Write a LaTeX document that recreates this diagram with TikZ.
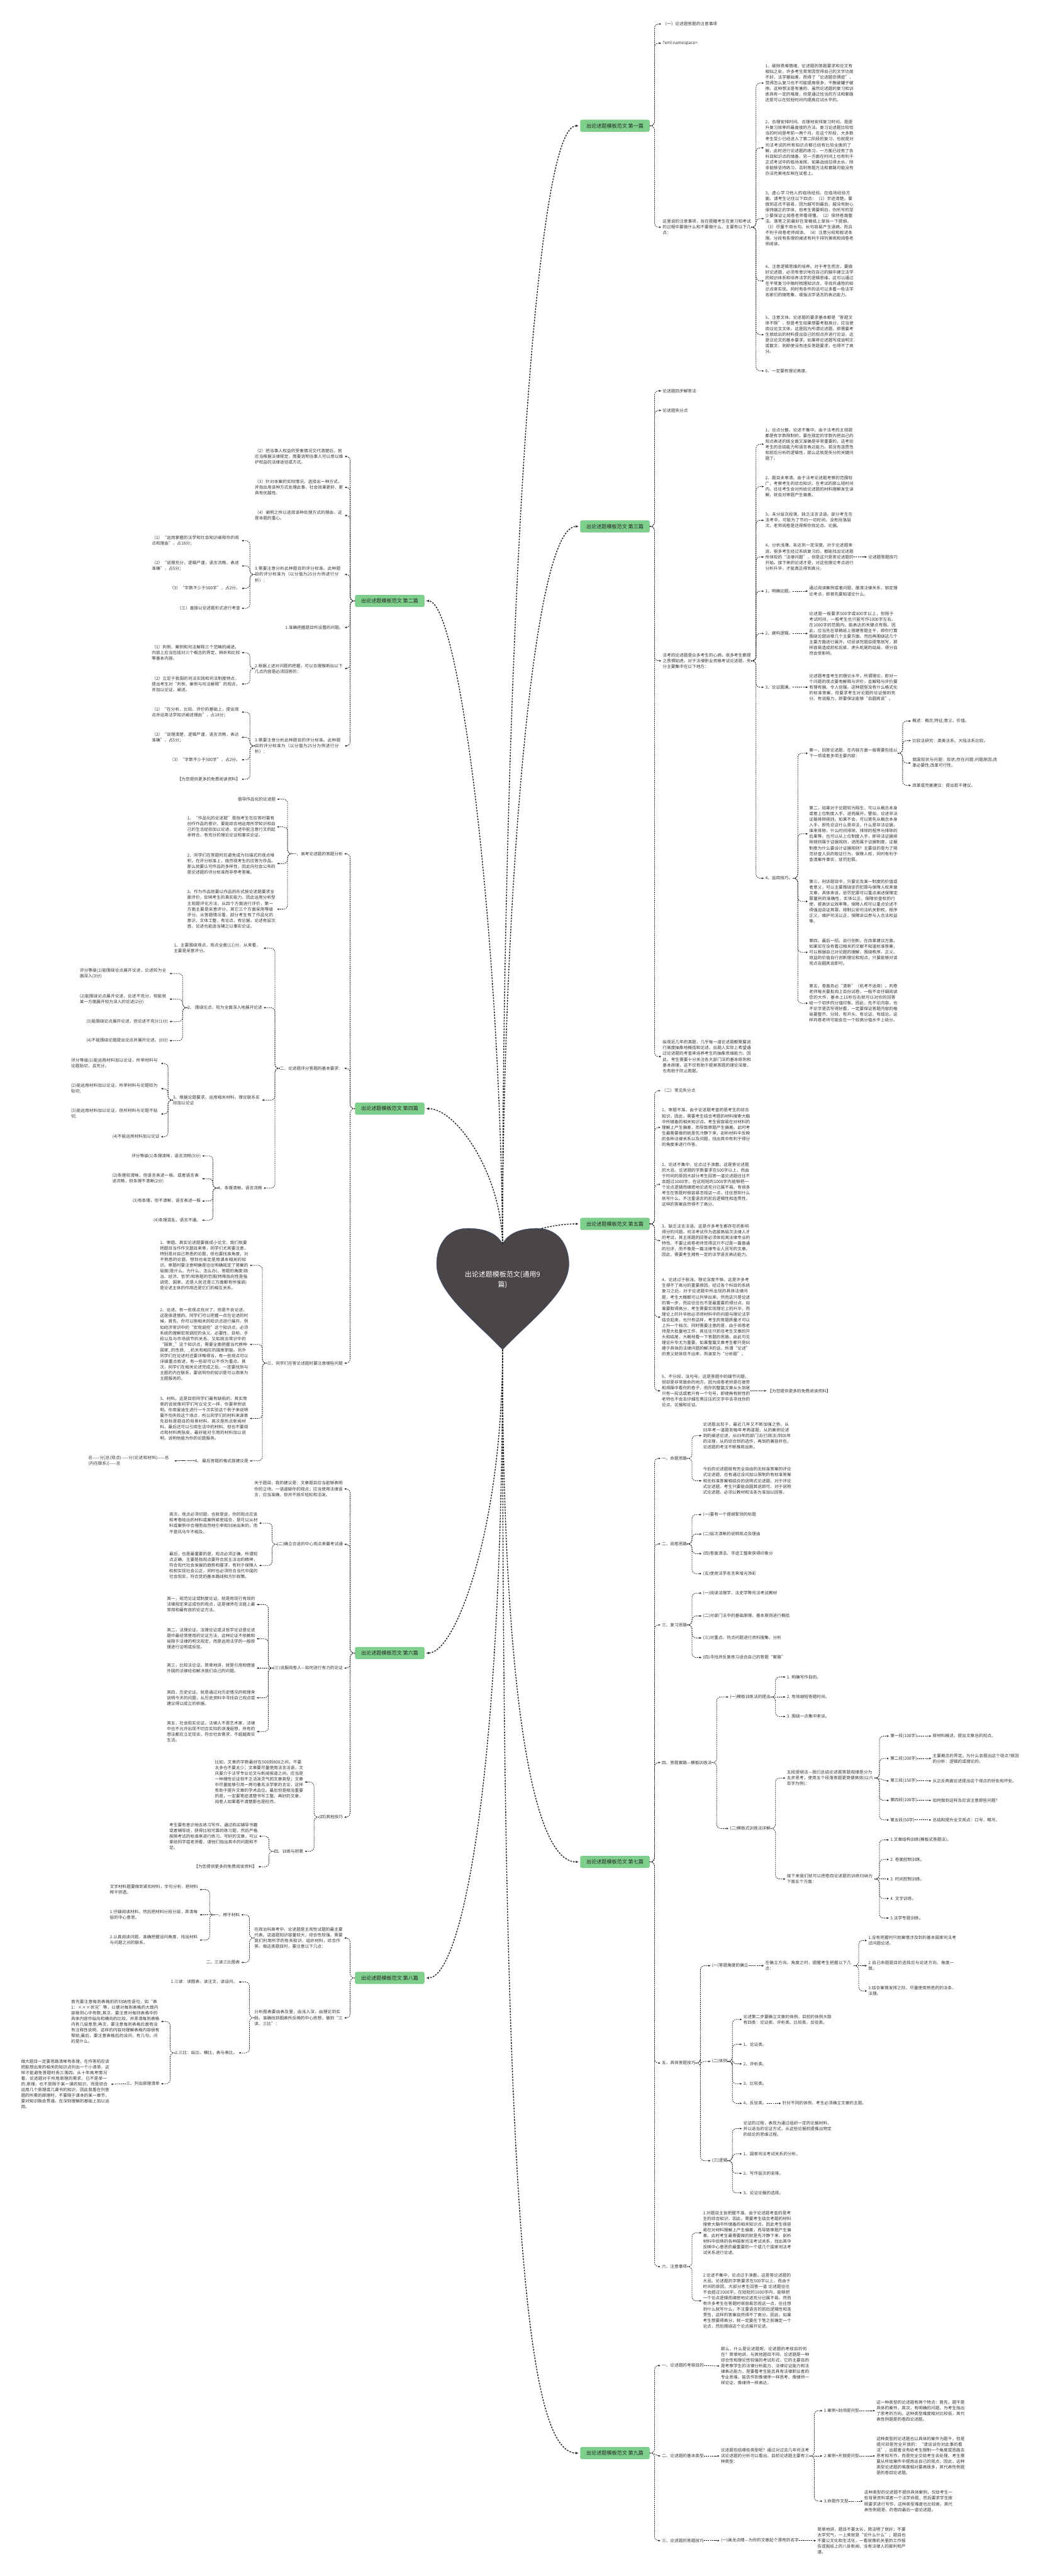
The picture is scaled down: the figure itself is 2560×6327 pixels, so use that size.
\documentclass[tikz,border=0pt]{standalone}
\usepackage{fontspec}
\setmainfont{Noto Sans CJK SC}
\usetikzlibrary{arrows.meta}
\XeTeXlinebreaklocale "zh"
\XeTeXlinebreakskip=0pt plus 1pt
\setlength{\parindent}{0pt}
\definecolor{inktext}{HTML}{333333}
\definecolor{inkline}{HTML}{222222}
\definecolor{leafgreen}{HTML}{7DCF8B}
\definecolor{leafedge}{HTML}{62B873}
\definecolor{heartfill}{HTML}{4A4546}
\definecolor{heartedge}{HTML}{3A5580}
\newcommand{\rlink}[2]{\draw[link] (#1.east) -- ++(12,0) |- (#2.west);}
\newcommand{\llink}[2]{\draw[link] (#1.west) -- ++(-12,0) |- (#2.east);}
\newcommand{\rhlink}[2]{\draw[link] (#1.east) to[out=0,in=180] (#2.west);}
\newcommand{\lhlink}[2]{\draw[link] (#1.west) to[out=180,in=0] (#2.east);}

\begin{document}
\begin{tikzpicture}[x=1pt, y=-1pt,
  every node/.style={inner sep=0pt, text=inktext, font=\fontsize{10.3}{14}\selectfont},
  rt/.style={anchor=west},
  lt/.style={anchor=east},
  para/.style={text width=217pt, align=left},
  branch/.style={draw=leafedge, fill=leafgreen, rounded corners=4pt, minimum width=170pt,
                 minimum height=29pt, inner xsep=6pt, font=\fontsize{12.5}{15}\selectfont, text=black!85},
  link/.style={draw=inkline, line width=1.2pt, dash pattern=on 3pt off 2pt, rounded corners=10pt,
               shorten >=3pt, -{Latex[length=5pt,width=4.5pt]}},
  trunk/.style={draw=inkline, line width=2.2pt, dash pattern=on 4pt off 3pt, shorten >=4pt,
                -{Latex[length=7pt,width=6pt]}}
]
  \fill[white] (0,0) rectangle (2560,6327);
  \useasboundingbox (0,0) rectangle (2560,6327);

  \filldraw[fill=heartfill, draw=heartedge, line width=0.8pt]
    (1234,3055) .. controls (1250,3025) and (1285,3017) .. (1320,3017)
    .. controls (1368,3017) and (1397,3055) .. (1397,3105)
    .. controls (1397,3175) and (1300,3245) .. (1234,3315)
    .. controls (1168,3245) and (1072,3175) .. (1072,3105)
    .. controls (1072,3055) and (1100,3017) .. (1148,3017)
    .. controls (1183,3017) and (1218,3025) .. (1234,3055) -- cycle;
  \node[text=white, align=center, font=\fontsize{17}{24}\selectfont] (root) at (1234,3143) {出论述题模板范文(通用9\\篇)};
  \coordinate (htop) at (1234,3055);
  \coordinate (hbot) at (1234,3315);
  \coordinate (hright) at (1330,3017);

  \node[branch] (b1) at (1510,309) {出论述题模板范文 第一篇};
  \node[branch] (b3) at (1510,1293) {出论述题模板范文 第三篇};
  \node[branch] (b5) at (1510,3006) {出论述题模板范文 第五篇};
  \node[branch] (b7) at (1510,4573) {出论述题模板范文 第七篇};
  \node[branch] (b9) at (1510,6025) {出论述题模板范文 第九篇};
  \node[branch] (b2) at (957,1476) {出论述题模板范文 第二篇};
  \node[branch] (b4) at (957,2723) {出论述题模板范文 第四篇};
  \node[branch] (b6) at (957,4060) {出论述题模板范文 第六篇};
  \node[branch] (b8) at (957,4858) {出论述题模板范文 第八篇};

  \draw[trunk] (htop) .. controls (1234,1800) and (1300,309) .. (b1.west);
  \draw[trunk] (htop) .. controls (1234,2300) and (1300,1293) .. (b3.west);
  \draw[trunk] (htop) .. controls (1228,2300) and (1130,1476) .. (b2.east);
  \draw[trunk] (htop) .. controls (1230,2880) and (1120,2723) .. (b4.east);
  \draw[trunk] (hright) .. controls (1370,3008) and (1395,3006) .. (b5.west);
  \draw[trunk] (hbot) .. controls (1234,3750) and (1120,4060) .. (b6.east);
  \draw[trunk] (hbot) .. controls (1234,4400) and (1130,4858) .. (b8.east);
  \draw[trunk] (hbot) .. controls (1234,4100) and (1300,4573) .. (b7.west);
  \draw[trunk] (hbot) .. controls (1234,5400) and (1290,6025) .. (b9.west);

  \node[rt] (a1) at (1627,59) {（一）论述题答题的注意事项};
  \node[rt] (a2) at (1627,106) {?xml:namespace>};
  \node[rt,para] (a3) at (1627,558) {这里说的注意事项，旨在提醒考生在复习和考试的过程中要做什么和不要做什么，主要有以下几点：};
  \node[rt,para] (a31) at (1879,204) {1、破除畏难情绪，论述题的答题要求和论文有相似之处，许多考生常常因觉得自己的文字功底不好，法学基础差，而得了“论述题恐惧症”，觉得怎么复习也不可能提高很多，干脆破罐子破摔。这种想法是有害的，虽然论述题的复习和训练具有一定的难度，但是通过恰当的方法和套路还是可以在较短时间内提高应试水平的。};
  \node[rt,para] (a32) at (1879,363) {2、合理安排时间。合理地安排复习时间，是提升复习效率的最直接的方法。复习论述题比较恰当的时间是考前一两个月。在这个阶段，大多数考生至少已经进入了第二阶段的复习，也就是对司法考试的所有知识点都已经有比较全面的了解，此时进行论述题的练习，一方面已经有了各科目知识点的储备，另一方面在时间上也有利于正式考试中的临场发挥。如果战线拉得太长，除非能够坚持练习，否则答题方法和套路可能没有办法完美地反映在试卷上。};
  \node[rt,para] (a33) at (1879,537) {3、虚心学习他人的临场经验。在临场经验方面，请考生记住以下四点：（1）字迹清楚。要做到这点不容易，因为越写到最后，越没有耐心保持端正的字体，但考生需要明白，你所写的至少要保证让阅卷老师看得懂。（2）保持卷面整洁。落笔之前最好在草稿纸上草拟一下提纲。（3）尽量不用长句。长句容易产生语病，而且不利于阅卷老师阅读。（4）注意分段和叙述条理。分段有条理的阐述有利于排列美观和阅卷老师阅读。};
  \node[rt,para] (a34) at (1879,690) {4、注意逻辑思维的培养。对于考生而言，要做好论述题，必须有意识地在自己的脑中建立法学的知识体系和培养法学的逻辑思维。这可以通过在平常复习中随时梳理知识点，寻找共通性的知识点来实现。同时有条件的话可以多看一些法学名家们的随笔集，增强法学语言的表达能力。};
  \node[rt,para] (a35) at (1879,822) {5、注意文体。论述题的要求基本都是“答题文体不限”，但是考生如果想要考取高分，应当使用议论文文体。这是因为所谓论述题，即需要考生就给出的材料提出自己的观点并进行论证，这是议论文的基本要求。如果将论述题写成说明文或散文，则即使没有违反答题要求，也得不了高分。};
  \node[rt] (a36) at (1879,911) {6、一定要有理论高度。};
  \foreach \c in {a1,a2,a3} {\rlink{b1}{\c}}
  \foreach \c in {a31,a32,a33,a34,a35,a36} {\rlink{a3}{\c}}

  \node[rt] (c1) at (1627,960) {论述题四步解答法};
  \node[rt] (c2) at (1627,1008) {论述题失分点};
  \node[rt,para] (c3) at (1627,1623) {法考的论述题是众多考生的心病，很多考生都提之畏惧如虎。对于法律职业资格考试论述题，失分主要集中在以下地方：};
  \node[rt,para] (c4) at (1627,2595) {纵观近几年的真题，几乎每一道论述题都需要进行高度抽象地概括和论述。出题人实际上希望通过论述题的考查来培养考生的抽象思维能力。因此，考生需要十分关注各大部门法的基本原则和基本原理，这不仅有助于提高答题的理论深度，也有助于防止跑题。};
  \node[rt,para] (c31) at (1879,1091) {1、论点分散，论述不集中。由于法考的主观题都是有字数限制的，要在规定的字数内把自己的观点表述的既全面又准确是非常重要的，这考验考生的总结能力和语言表达能力。若没有连贯性和前后分析的逻辑性，那么这就是失分的关键问题了。};
  \node[rt,para] (c32) at (1879,1195) {2、题目未审清。由于法考论述题考察的范围较广，考察考生的综合知识。在考试的那么短时间内，往往考生会对所给论述题的材料理解发生误解，就会对审题产生偏差。};
  \node[rt,para] (c33) at (1879,1278) {3、未分层次段落，缺乏法言法语。部分考生在法考中，可能为了节约一切时间，没有段落层次，老师阅卷是还得帮你找论点、论据。};
  \node[rt,para] (c34) at (1879,1368) {4、分析浅薄，未达到一定深度。对于论述题来说，很多考生经过系统复习后，都能找出论述题所体现的“法律问题”，但是这只是答论述题的开始。接下来的论述才是，对这些理论考点进行分析升华，才能真正得到高分。};
  \node[rt] (c341) at (2132,1368) {论述题答题技巧};
  \node[rt] (c35) at (1879,1452) {1、明确论题。};
  \node[rt,para] (c351) at (1987,1452) {通过阅读案例或者问题，厘清法律关系，锁定理论考点，即首先要知道论什么。};
  \node[rt] (c36) at (1879,1556) {2、建构逻辑。};
  \node[rt,para] (c361) at (1987,1556) {论述题一般要求500字或800字以上，但限于考试时间，一般考生也只能写作1000字左右。在1000字的范围内，能表达的关键点有限。因此，应当先在草稿纸上搭建答题主干，即你打算围绕论题谈哪几个主要方面。然后再围绕这几个主要方面进行展开。切忌读完题目提笔就写，那样容易造成前松后紧、虎头蛇尾的结局，得分自然会受影响。};
  \node[rt] (c37) at (1879,1688) {3、论证圆满。};
  \node[rt,para] (c371) at (1987,1688) {论述题考查考生的理论水平。所谓理论，即对一个问题的观点要有解释与评价，且解释与评价要有理有据、令人信服。这种题型没有什么格式化的标准答案，但要求考生对论题的论证做到充分、有说服力，即要保证能够“自圆其说”。};
  \node[rt] (c38) at (1879,2157) {4、运用技巧。};
  \node[rt,para] (c381) at (1987,1850) {第一，回答论述题，在内容方面一般需要包括以下一项或者多项主要内容：};
  \node[rt] (d1) at (2240,1771) {概述：概念;特征;意义、价值。};
  \node[rt] (d2) at (2240,1819) {比较法研究：英美法系、大陆法系比较。};
  \node[rt,para,text width=214pt] (d3) at (2240,1874) {我国现状与问题：现状;存在问题;问题原因;改革必要性;改革可行性。};
  \node[rt] (d4) at (2240,1929) {改革或完善建议：提出若干建议。};
  \node[rt,para] (c382) at (1987,2048) {第二，如果对于论题较为陌生，可以从概念本身或者上位制度入手，进而展开。譬如，论述非法证据排除规则。如果不会，可以首先从概念本身入手，即先论证什么是非法，什么是非法证据，谁来排除，什么时间排除，排除的程序与排除的后果等。也可以从上位制度入手，即非法证据排除规则属于证据规则，进而属于证据制度，证据制度为什么要设计证据规则？主要目的是为了规范侦查人员的取证行为，保障人权，同时有利于查清案件事实，惩罚犯罪。};
  \node[rt,para] (c383) at (1987,2214) {第三，刑诉题目中，只要论及某一制度的价值或者意义，可以主要围绕惩罚犯罪与保障人权来做文章，具体来说，惩罚犯罪可以重点阐述保障定罪量刑的准确性，实体公正，保障侦查权的行使，提高诉讼效率等。保障人权可以重点论述不得强迫自证其罪，规制公安司法机关职权，程序正义，维护司法公正，保障诉讼参与人合法权益等。};
  \node[rt,para] (c384) at (1987,2339) {第四，最后一招，自行创新。在改革建议方面，如果实在没有看过相关的文献不知道标准答案，可以根据自己对论题的理解，围绕秩序、正义、效益的价值自行创新理论和观点，只要能够对该观点自圆其说即可。};
  \node[rt,para] (c385) at (1987,2464) {第五，卷面务必“清新”（机考不适用）。判卷老师每天要批阅上百份试卷，一般不会仔细阅读您的大作，基本上15秒左右就可以对你的回答给一个初步的分值印象。因此，先不论内容，也不论字是否写得好看，一定要保证答题内容的格局要整齐、分段、有开头、有论证、有结论。这样判卷老师可能会在一个较高分值水平上给分。};
  \foreach \c in {c1,c2,c3,c4} {\rlink{b3}{\c}}
  \foreach \c in {c31,c32,c33,c34,c35,c36,c37,c38} {\rlink{c3}{\c}}
  \rhlink{c34}{c341} \rhlink{c35}{c351} \rhlink{c36}{c361} \rhlink{c37}{c371}
  \foreach \c in {c381,c382,c383,c384,c385} {\rlink{c38}{\c}}
  \foreach \c in {d1,d2,d3,d4} {\rlink{c381}{\c}}

  \node[rt] (e1) at (1625,2679) {（二）常见失分点};
  \node[rt,para] (e2) at (1625,2769) {1、审题不准。由于论述题考查的是考生的综合知识，因此，需要考生结合考题的材料搜索大脑中所储备的相关知识点。考生很容易在对材料的理解上产生偏差，而导致审题产生偏差。此时考生最需要做的就是先冷静下来，剖析材料中反映的各种法律关系以及问题，找出其中有利于得分的角度来进行作答。};
  \node[rt,para] (e3) at (1625,2909) {2、论述不集中，论点过于涣散。这是答论述题的大忌。论述题的字数要求在500字以上，而由于时间的原因大部分考生回答一道论述题往往不会超过1000字。在这短短的1000字内能够把一个论点逻辑而缜密地论述充分已属不易。有很多考生在答题时很容易忽视这一点，往往想到什么就写什么，不注重语言的前后逻辑性和连贯性，这样的答案自然得不了高分。};
  \node[rt,para] (e4) at (1625,3047) {3、缺乏法言法语。这是许多考生都存在的影响得分的问题。司法考试作为选拔高层次法律人才的考试，其主观题的回答必须体现其法律专业的特性。不要让阅卷老师觉得这只不过是一篇普通的社评，而不像是一篇法律专业人员写的文章。因此，需要考生拥有一定的法学语言表达能力。};
  \node[rt,para] (e5) at (1625,3235) {4、论述过于肤浅，理论深度不够。这是许多考生得不了高分的重要原因。经过各个科目的系统复习之后，对于论述题中所出现的具体法律问题，考生大概都可以列举出来。然而这只是论述的第一步，而且往往也不是最重要的得分点。如果要取得高分，考生需要实现理论上的升华，而理论上的升华就必须将材料中的问题与理论法学结合起来，也只有这样，考生的答题质量才可以上升一个档次。同时需要注意的是，由于阅卷老师是大批量地工作，其往往只抓住考生文章的开头和结尾，大概地看一下答题的思路，由此可见理论升华尤为重要。如果整篇文章考生都只是纠缠于具体的法律问题的解决的话，所谓“论述”的意义就体现不出来，而演变为“分析题”。};
  \node[rt,para] (e6) at (1625,3416) {5、不分段，没句号。这是答题中的细节问题，但却是非常致命的地方，因为阅卷老师是在疲劳和烦躁中看你的卷子，而你的整篇文章从头到尾只有一段话或者只有一个句号，即使再有耐性的老师也不会去仔细在黑压压的文字中去寻找你的论点、论据和论证。};
  \node[rt] (e61) at (1885,3416) {【为您提供更多的免费阅读资料】};
  \foreach \c in {e1,e2,e3,e4,e5,e6} {\rlink{b5}{\c}}
  \rhlink{e6}{e61}

  \node[rt] (f1) at (1625,3582) {一、命题思路};
  \node[rt,para] (f11) at (1726,3526) {论述题出现于，最近几年又不断加强之势。从03年考一道题到每年考两道题，从的案例论述到的阐述论述，从03年的部门法(行政法)到05年的法理，从的综合到的选作，再到的兼容并包，论述题的考法不断推陈出新。};
  \node[rt,para] (f12) at (1726,3637) {今后的论述题既有完全自由的无标准答案的评论式论述题，也有通过设问加以限制的有标准答案和无标准答案相结合的说明式论述题。对于评论式论述题，考生只要能自圆其说即可。对于说明式论述题，必须以教材和法条为准加以回答。};
  \node[rt] (f2) at (1625,3792) {二、阅卷思路};
  \node[rt] (f21) at (1726,3720) {(一)要有一个提纲挈领的标题};
  \node[rt] (f22) at (1726,3768) {(二)层次清晰的说明观点及理由};
  \node[rt] (f23) at (1726,3816) {(四)卷面清洁、字迹工整来获得印象分};
  \node[rt] (f24) at (1726,3865) {(五)使用法学名言来增光添彩};
  \node[rt] (f3) at (1625,3991) {三、复习思路};
  \node[rt] (f31) at (1726,3913) {(一)阅读法理学、法史学等司法考试教材};
  \node[rt,para] (f32) at (1726,3969) {(二)对部门法中的基础原理、基本原则进行概括};
  \node[rt] (f33) at (1726,4023) {(三)对重点、热点问题进行资料搜集、分析};
  \node[rt] (f34) at (1726,4071) {(四)寻找并反复练习适合自己的答题“套路”};
  \node[rt] (f4) at (1625,4329) {四、答题套路—模板训练法};
  \node[rt] (f41) at (1792,4168) {(一)模板训练法的提出};
  \node[rt] (g1) at (1932,4119) {1. 明确写作目的。};
  \node[rt] (g2) at (1932,4168) {2. 有效缩短答题时间。};
  \node[rt] (g3) at (1932,4216) {3. 围绕一点集中来谈。};
  \node[rt] (f42) at (1792,4491) {(二)模板式训练法详解};
  \node[rt,para,text width=215pt] (f421) at (1932,4367) {五段提纲法—我们总结论述题答题规律是分为五步思考，使用五个段落答题更简便高效(以六百字为例)：};
  \node[rt] (h1) at (2186,4264) {第一段(100字)};
  \node[rt] (h2) at (2186,4319) {第二段(200字)};
  \node[rt] (h3) at (2186,4374) {第三段(150字)};
  \node[rt] (h4) at (2186,4422) {第四段(100字)};
  \node[rt] (h5) at (2186,4470) {第五段(50字)};
  \node[rt] (h11) at (2290,4264) {原材料概述，提出文章总的观点。};
  \node[rt,para,text width=213pt] (h21) at (2290,4319) {主要概念的界定。为什么会提出这个观点?原因的分析：逻辑的或理论的。};
  \node[rt] (h31) at (2290,4374) {从正反两面论述提出这个观点的好处和坏处。};
  \node[rt] (h41) at (2290,4422) {如何做到这样及应该注意那些问题?};
  \node[rt] (h51) at (2290,4470) {总结和提升全文观点：口号，略写。};
  \node[rt,para,text width=215pt] (f422) at (1932,4615) {接下来我们就可以把卷四论述题的训练归纳为下面五个方面：};
  \node[rt] (k1) at (2186,4519) {1.文章结构训练(模板式答题法)。};
  \node[rt] (k2) at (2186,4567) {2. 卷面控制训练。};
  \node[rt] (k3) at (2186,4615) {3. 时间控制训练。};
  \node[rt] (k4) at (2186,4663) {4. 文字训练。};
  \node[rt] (k5) at (2186,4711) {5.法学专题训练。};
  \node[rt] (f5) at (1625,5067) {五、具体答题技巧};
  \node[rt] (f51) at (1748,4828) {(一)答题角度的确立};
  \node[rt,para] (f511) at (1879,4828) {在确立方向、角度之时，提醒考生把握以下几点：};
  \node[rt,para] (m1) at (2132,4766) {1.没有把握时只就案情涉及到的基本国家司法考试问题论述。};
  \node[rt,para] (m2) at (2132,4828) {2.自己命题题目的选择应与论述方向、角度一致。};
  \node[rt,para] (m3) at (2132,4890) {3.结合案情发挥之际，尽量使用熟悉的的法条、法理。};
  \node[rt] (f52) at (1748,5063) {(二)体例};
  \node[rt,para] (p1) at (1825,4960) {论述第二步要确立文章的体例，目前的体例大致有四类：论证类、评析类、比较类、反驳类。};
  \node[rt] (p2) at (1825,5021) {1、论证类。};
  \node[rt] (p3) at (1825,5069) {2、评析类。};
  \node[rt] (p4) at (1825,5118) {3、比较类。};
  \node[rt] (p5) at (1825,5166) {4、反驳类。};
  \node[rt] (p51) at (1921,5166) {针对不同的体例，考生必须确立文章的主题。};
  \node[rt] (f53) at (1748,5307) {(三)逻辑};
  \node[rt,para] (q1) at (1825,5228) {论证的过程，表现为通过组织一定的论据材料，并以适当的论证方式，从这些论据前提推出特定的结论的思维过程。};
  \node[rt] (q2) at (1825,5290) {1、国家司法考试关系的分析。};
  \node[rt] (q3) at (1825,5338) {2、写作层次的安排。};
  \node[rt] (q4) at (1825,5386) {3、论证论据的选择。};
  \node[rt] (f6) at (1625,5567) {六、注意事项};
  \node[rt,para] (f61) at (1726,5484) {1.对题目主旨把握不准。由于论述题考查的是考生的综合知识，因此，需要考生结合考题的材料搜索大脑中所储备的相关知识点。因此考生很容易在对材料理解上产生偏差，而导致审题产生偏差。此时考生最需要做的就是先冷静下来，剖析材料中反映的各种国家司法考试关系，找出其中反映中心意思的最重要的一个或几个国家司法考试关系进行论述。};
  \node[rt,para] (f62) at (1726,5651) {2.论述不集中，论点过于涣散。这是答论述题的大忌。论述题的字数要求在500字以上，而由于时间的原因，大部分考生回答一道 论述题往往不会超过1000字。在短短的1000字内，能够把一个论点逻辑而缜密地论述充分已属不易。然而有许多考生在答题时很容易忽视这一点，往往想到什么就写什么，不注重语言的前后逻辑性和连贯性，这样的答案自然得不了高分。因此，如果考生想要得高分，就一定要在下笔之前确定一个论点，然后围绕这个论点展开论述。};
  \foreach \c in {f1,f2,f3,f4,f5,f6} {\rlink{b7}{\c}}
  \foreach \c in {f11,f12} {\rlink{f1}{\c}}
  \foreach \c in {f21,f22,f23,f24} {\rlink{f2}{\c}}
  \foreach \c in {f31,f32,f33,f34} {\rlink{f3}{\c}}
  \foreach \c in {f41,f42} {\rlink{f4}{\c}}
  \foreach \c in {g1,g3} {\rlink{f41}{\c}}
  \rhlink{f41}{g2}
  \foreach \c in {f421,f422} {\rlink{f42}{\c}}
  \foreach \c in {h1,h2,h4,h5} {\rlink{f421}{\c}}
  \rhlink{f421}{h3}
  \foreach \c in {1,2,3,4,5} {\rhlink{h\c}{h\c1}}
  \foreach \c in {k1,k2,k4,k5} {\rlink{f422}{\c}}
  \rhlink{f422}{k3}
  \foreach \c in {f51,f52,f53} {\rlink{f5}{\c}}
  \rhlink{f51}{f511}
  \foreach \c in {m1,m3} {\rlink{f511}{\c}}
  \rhlink{f511}{m2}
  \foreach \c in {p1,p2,p3,p4,p5} {\rlink{f52}{\c}}
  \rhlink{p5}{p51}
  \foreach \c in {q1,q2,q3,q4} {\rlink{f53}{\c}}
  \foreach \c in {f61,f62} {\rlink{f6}{\c}}

  \node[rt] (r1) at (1625,5810) {一、论述题的考核目的};
  \node[rt,para] (r11) at (1770,5811) {那么，什么是论述题呢，论述题的考核目的何在？简单地讲，与其他题目不同，论述题是一种综合性和理论性较强的考试形式，它的主要目的是考察学生的法律分析能力、法律论证能力和法律表达能力，是要看考生能否具有法律职业者的专业思维，能否作到像律师一样思考、像律师一样论证、像律师一样表达，};
  \node[rt] (r2) at (1625,6032) {二、论述题的基本类型};
  \node[rt,para] (r21) at (1770,6032) {论述题包括哪些类型呢？通过对过去几年司法考试论述题的分析可以看出，目前论述题主要有三种类型：};
  \node[rt] (s1) at (2023,5921) {1.案例+封闭提问型};
  \node[rt,para] (s11) at (2152,5921) {这一种类型的论述题有两个特点：首先，题干是具体的案件，其次，有明确的问题，为考生指出了思考的方向。这种类型难度相对比较低，其代表性例题是的卷四论述题。};
  \node[rt] (s2) at (2023,6032) {2.案例+开放提问型};
  \node[rt,para] (s21) at (2152,6032) {这种类型的论述题也以具体的案件为题干，但是提问却是完全开放的：“请谈谈你对此事的看法”，出题者没有给考生限制一个角度或思路去思考和写作，而是完全交给考生去处理。考生需要从所给案件中提炼出自己的观点，因此，这种类型论述题的难度相对要高很多，其代表性例题是的卷四论述题。};
  \node[rt] (s3) at (2023,6143) {3.命题作文型};
  \node[rt,para] (s31) at (2122,6143) {这种类型的论述题不提供具体案例，仅给考生一些背景资料或者一个法学命题，然后要求学生按照要求进行写作，这种类型难度也比较高，其代表性例题是、的卷四最后一道论述题。};
  \node[rt] (r3) at (1625,6240) {三、论述题的答题技巧};
  \node[rt] (r31) at (1770,6240) {(一)画龙点睛—为你的文章起个漂亮的名字};
  \node[rt,para] (r311) at (2007,6240) {简单地讲，题目不要太长，简洁明了就好；不要太学究气，一上来就是“论什么什么”；题目也不要公文化和生活化，一看就像机关里的工作报告或报纸上的八卦新闻，没有法律人的犀利和严谨。};
  \foreach \c in {r1,r3} {\rlink{b9}{\c}}
  \rhlink{b9}{r2}
  \rhlink{r1}{r11} \rhlink{r2}{r21} \rhlink{r3}{r31} \rhlink{r31}{r311}
  \foreach \c in {s1,s3} {\rlink{r21}{\c}}
  \rhlink{r21}{s2}
  \foreach \c in {1,2,3} {\rhlink{s\c}{s\c1}}

  \node[lt,para] (t1) at (843,1121) {（2）把当事人权益的受害情况交代清楚后，就应当根据法律规定，简要说明当事人可以用以维护权益的法律途径或方式。};
  \node[lt,para] (t2) at (843,1197) {（3）针对本案的实际情况，选择出一种方式，并指出用该种方式处理此事，社会效果更好、更具有优越性。};
  \node[lt,para] (t3) at (843,1266) {（4）阐明之所以选择该种处理方式的理由，这是本题的重心。};
  \node[lt,para] (t4) at (843,1411) {3.需要注意分析此种题目的评分标准。此种题目的评分标准为（以分值为25分为例进行分析）：};
  \node[lt,para] (t41) at (590,1328) {（1）“运用掌握的法学和社会知识阐释你的观点和理由”，占18分；};
  \node[lt,para] (t42) at (590,1390) {（2）“说理充分，逻辑严谨，语言流畅，表述准确”，占5分；};
  \node[lt] (t43) at (590,1445) {（3）“字数不少于500字”，占2分。};
  \node[lt] (t44) at (590,1494) {（三）直接以论述题形式进行考查};
  \node[lt] (t5) at (843,1541) {1.准确把握题目所设置的问题。};
  \node[lt,para] (t6) at (843,1642) {2.根据上述对问题的把握，可以合理推断出以下几点内容是必须回答的：};
  \node[lt,para] (t61) at (590,1603) {（1）判例、案例和司法解释三个范畴的阐述，内容上应当包括对三个概念的界定、辨析和比较等基本内容。};
  \node[lt,para] (t62) at (590,1680) {（2）立足于我国的司法实践和司法制度特点，提出考生对“判例、案例与司法解释”的观点，并加以论证、阐述。};
  \node[lt,para] (t7) at (843,1832) {3.需要注意分析此种题目的评分标准。此种题目的评分标准为（以分值为25分为例进行分析）：};
  \node[lt,para] (t71) at (590,1749) {（1）“在分析、比较、评价的基础上，提出观点并运用法学知识阐述理由”，占18分；};
  \node[lt,para] (t72) at (590,1811) {（2）“说理清楚，逻辑严谨，语言流畅，表达准确”，占5分；};
  \node[lt] (t73) at (590,1866) {（3）“字数不少于500字”，占2分。};
  \node[lt] (t74) at (590,1914) {【为您提供更多的免费阅读资料】};
  \foreach \c in {t1,t2,t3,t4,t5,t6,t7} {\llink{b2}{\c}}
  \foreach \c in {t41,t42,t43,t44} {\llink{t4}{\c}}
  \foreach \c in {t61,t62} {\llink{t6}{\c}}
  \foreach \c in {t71,t72,t73,t74} {\llink{t7}{\c}}

  \node[lt] (u1) at (842,2097) {一、高考论述题的答题分析};
  \node[lt] (u11) at (677,1963) {倡导作品化的论述题};
  \node[lt,para] (u12) at (677,2031) {1、“作品化的论述题”是指考生在应答时要有创作作品的意识，要能综合地运用所学知识和自己的生活经验加以论述，论述中能注意行文的起承转合，有充分的理论论证和事实论证。};
  \node[lt,para] (u13) at (677,2121) {2、同学们在答题时应避免成为扫描式的观点堆积，在评分标准上，既然视考生的应答为作品，那么就要认可作品的多样性，因此向社会公布的是论述题的评分标准而非参考答案。};
  \node[lt,para] (u14) at (677,2233) {3、作为作品就要以作品的形式按论述题要求全面评价，反映考生的真实能力，因此运用分析型主观题评化方法，从四个方面进行评价，第一方面主要是采意评分，其它三个方面采用等级评分。从答题情况看，部分考生有了作品化的意识、文体工整，有论点，有论据，论述有层次感，论述也能适当辅之以事实论证。};
  \node[lt] (u2) at (842,2624) {二、论述题评分答题的基本要求：};
  \node[lt,para] (u21) at (644,2329) {1、主要围绕观点，观点全面(11)分，从来看，主要是采意评分。};
  \node[lt] (u22) at (644,2475) {2、 围绕论点，较为全面深入地展开论述};
  \node[lt,para] (v1) at (413,2391) {评分等级(1)能围绕论点展开论述，论述较为全面深入(3分)};
  \node[lt,para] (v2) at (413,2454) {(2)能围绕论点展开论述，论述不充分，但能就某一方面展开较为深入的论述(2分)};
  \node[lt] (v3) at (413,2509) {(3)能围绕论点展开论述，但论述不充分(1分)};
  \node[lt] (v4) at (413,2556) {(4)不能围绕论题提出论点并展开论述。(0分)};
  \node[lt,para,text width=215pt] (u23) at (640,2702) {3、根据论题要求，运用相关材料，理论联系实际加以论证};
  \node[lt,para] (w1) at (392,2612) {评分等级(1)能运用材料加以论证，所举材料与论题贴切，且充分。};
  \node[lt,para] (w2) at (392,2674) {(2)能运用材料加以论证，所举材料与论题较为贴切;};
  \node[lt,para] (w3) at (392,2736) {(3)能运用材料加以论证，但所材料与论题不贴切;};
  \node[lt] (w4) at (392,2792) {(4)不能运用材料加以论证};
  \node[lt] (u24) at (644,2918) {4、条理清晰，语言流畅};
  \node[lt] (x1) at (493,2839) {评分等级(1)条理清晰，语言流畅(3分)};
  \node[lt,para] (x2) at (493,2895) {(2)条理较清晰，但语言表述一般，或者语言表述流畅，但条理不清晰(2分)};
  \node[lt] (x3) at (493,2950) {(3)有条理，但不清晰，语言表述一般};
  \node[lt] (x4) at (493,2997) {(4)条理混乱，语言不通。};
  \node[lt] (u3) at (842,3348) {三、同学们在答论述题时要注意哪些问题};
  \node[lt,para] (y1) at (610,3108) {1、审题。其实论述题要做成小论文，我们就要把题目当作作文题目来审，同学们尤其要注意，特别是对自己熟悉的论题，但也要找准角度，对不熟悉的论题，想到也肯定是用课本相关的知识。审题时要注意明确是往往明确规定了答案的层面(是什么、为什么、怎么办)，答题的角度(政治、经济、哲学)和答题的范围(特殊指向性是强调党、国家、还是人民还是三方面都有所强调)是论述主体的作用还是它们的相互关系。};
  \node[lt,para] (y2) at (610,3302) {2、论述。有一些观点找对了，但是不会论述，这是很遗憾的。同学们可以把握一点在论述的时候，首先，你可以用相关的知识点进行展开。例如经济常识中的“宏观调控”这个知识点，必须系统的理解宏观调控的含义、必要性、目标、手段以及与市场调节的关系。又如政治常识中的“国家\_”这个知识点，需要全面把握当代两种国家\_的性质、\_机关和相应的国家职能。另外同学们在论述时还要详略得当，有一些观点可以详细重点叙述，有一些却可以不作为重点。其次，同学们在相关论述完成之后，一定要找到与主题的内在联系，要说明你的知识是可以用来为主题服务的。};
  \node[lt,para] (y3) at (610,3484) {3、材料。这是目前同学们最有缺陷的，其实简单的说就像同学们写议论文一样，你要举例说明。你用爱迪生进行一千次实验这个例子来说明要不怕失败这个观点，所以同学们的材料来源首先目标是题目的背景材料，其次是热点新闻材料，最后还可以引用生活中的材料，但也不要观点和材料两张皮，最好能对引用的材料加以说明，说明他能为你的论题服务。};
  \node[lt] (y4) at (610,3588) {4、 最后答题的格式我建议是};
  \node[lt,para,text width=208pt] (y41) at (425,3588) {总——分[总(观点)——分(论述和材料)——总(内在联系)]——总};
  \foreach \c in {u1,u2,u3} {\llink{b4}{\c}}
  \foreach \c in {u11,u12,u13,u14} {\llink{u1}{\c}}
  \foreach \c in {u21,u22,u23,u24} {\llink{u2}{\c}}
  \foreach \c in {v1,v2,v3,v4} {\llink{u22}{\c}}
  \foreach \c in {w1,w2,w3,w4} {\llink{u23}{\c}}
  \foreach \c in {x1,x2,x3,x4} {\llink{u24}{\c}}
  \foreach \c in {y1,y2,y3,y4} {\llink{u3}{\c}}
  \lhlink{y4}{y41}

  \node[lt,para] (z1) at (842,3657) {关于题目，我的建议是：文章题目应当能够表明你的立场，一语道破你的观点；应当使用法律语言，应当准确，但并不排斥轻松和活泼。};
  \node[lt] (z2) at (842,3793) {(二)确立合适的中心观点来赢考试通};
  \node[lt,para] (z21) at (633,3741) {其次，观点必须切题，也就是说，你的观点应该和考卷给出的材料或案例紧密结合，是可以从材料或案例中合理而自然地引申和归纳出来的，而不是风马牛不相及。};
  \node[lt,para] (z22) at (633,3845) {最后，也是最重要的是，观点必须正确，所谓观点正确，主要是指观点要符合民主法治的精神，符合现代社会发展的趋势和要求，有利于保障人权和实现社会公正，同时也必须符合当代中国的社会现实，符合党的基本路线和方针政策。};
  \node[lt] (z3) at (842,4097) {(三)说服阅卷人—如何进行有力的论证};
  \node[lt,para] (z31) at (627,3941) {其一，规范论证或制度论证。就是用现行有效的法律规定来证成你的观点，这是律师在法庭上最常用和最有效的论证方法。};
  \node[lt,para] (z32) at (627,4025) {其二，法理论证。法理论证或法哲学论证是论述题中最经常使用的论证方法，这种论证不依赖和局限于法律的明文规定，而是运用法学的一般原理进行证明或反驳。};
  \node[lt,para] (z33) at (627,4097) {其三，比较法论证。简单地讲，就是引用和借鉴外国的法律经验解决我们自己的问题。};
  \node[lt,para] (z34) at (627,4170) {其四，历史论证。就是通过对历史情况的梳理来说明今天的问题，从历史资料中寻找自己观点或建议得以成立的依据。};
  \node[lt,para] (z35) at (627,4253) {其五，社会现实论证。法律人不是艺术家，法律中也不允许出现不切合实际的浪漫遐想，所有的想法都应立足现实，符合社会需求，不超越真实生活。};
  \node[lt] (z4) at (842,4463) {(四)其他技巧};
  \node[lt,para] (z41) at (745,4377) {比如，文章的字数最好在500到800之间，不要太多也不要太少；文章要尽量使用法言法语，文风要介于法学专业论文与新闻报道之间，应当是一种理性论证但不乏活泼灵气的文章类型；文章中尽量能够引用一两句著名法学家的言论，这样有助于提升文章的学术品位。最后但是相当重要的是，一定要笔迹清楚书写工整，再好的文章，阅卷人如果看不清楚那也是枉然。};
  \node[lt] (z42) at (745,4547) {四、训练与积累};
  \node[lt,para] (z421) at (633,4510) {考生要有意识地去练习写作，通过购买辅导书籍或者辅导班，获得比较可靠的练习题，然后严格按照考试的标准来进行练习。写好的文章，可以拿给同学或老师看，请他们指出其中的问题和不足。};
  \node[lt] (z422) at (631,4585) {【为您提供更多的免费阅读资料】};
  \foreach \c in {z1,z2,z3,z4} {\llink{b6}{\c}}
  \foreach \c in {z21,z22} {\llink{z2}{\c}}
  \foreach \c in {z31,z32,z34,z35} {\llink{z3}{\c}}
  \lhlink{z3}{z33}
  \foreach \c in {z41,z42} {\llink{z4}{\c}}
  \foreach \c in {z421,z422} {\llink{z42}{\c}}

  \node[lt,para] (o1) at (842,4760) {在政治科高考中，论述题是主观性试题的最主要代表。这道题知识容量较大，综合性较强，需要我们利用所学的有关知识，组织材料，综合作答。做这类题目时，要注意以下几点：};
  \node[lt] (o11) at (589,4703) {一、榨干材料};
  \node[lt,para] (o111) at (487,4641) {文字材料题要做到紧扣材料，字句分析，把材料榨干挤透。};
  \node[lt,para] (o112) at (487,4703) {1.仔细阅读材料，然后把材料分段分层，弄清每层的中心意思。};
  \node[lt,para] (o113) at (487,4765) {2.认真阅读问题，准确把握设问角度，找出材料与问题之间的联系。};
  \node[lt] (o12) at (589,4820) {二、三读三比图表};
  \node[lt,para] (o2) at (842,4956) {分析图表要由表及里，由浅入深，由理论到实践，准确找到图表所反映的中心思想，做到“三读、三比”：};
  \node[lt] (o21) at (583,4868) {1.三读：读图表，读注文，读设问。};
  \node[lt] (o22) at (583,5042) {2.三比：纵比，横比，表与表比。};
  \node[lt,para] (o221) at (392,4965) {首先要注意每则表格前的归纳性语句，如“表1：×××状况”等，以便对每则表格的大致内容做到心中有数;其次，要注意对每则表格中的具体内容作纵向和横向的比较，并弄清每则表格内有几层意思;再次，要注意每则表格后面有没有注释性说明，这样的内容对理解表格内容很有帮助;最后，要注意表格后的设问，有几句，问的是什么。};
  \node[lt] (o222) at (392,5118) {三、列出原理清单};
  \node[lt,para] (o2221) at (269,5119) {做大题目一定要思路清晰有条理，在作答前应该把能想出来的相关的知识点列出一个小清单，这样才能避免答题时丢三落四。从十年高考情况看，论述题对于所用原理的需求，已不是单一的.原理，也不是限于某一课的知识，而是综合运用几个原理或几课书的知识，因此我看在列答题的所需的原理时，不要限于课本的某一章节，要对知识融会贯通，在深刻理解的基础上加以运用。};
  \foreach \c in {o1,o2} {\llink{b8}{\c}}
  \foreach \c in {o11,o12} {\llink{o1}{\c}}
  \foreach \c in {o111,o113} {\llink{o11}{\c}}
  \lhlink{o11}{o112}
  \foreach \c in {o21,o22} {\llink{o2}{\c}}
  \foreach \c in {o221,o222} {\llink{o22}{\c}}
  \lhlink{o222}{o2221}
\end{tikzpicture}
\end{document}
